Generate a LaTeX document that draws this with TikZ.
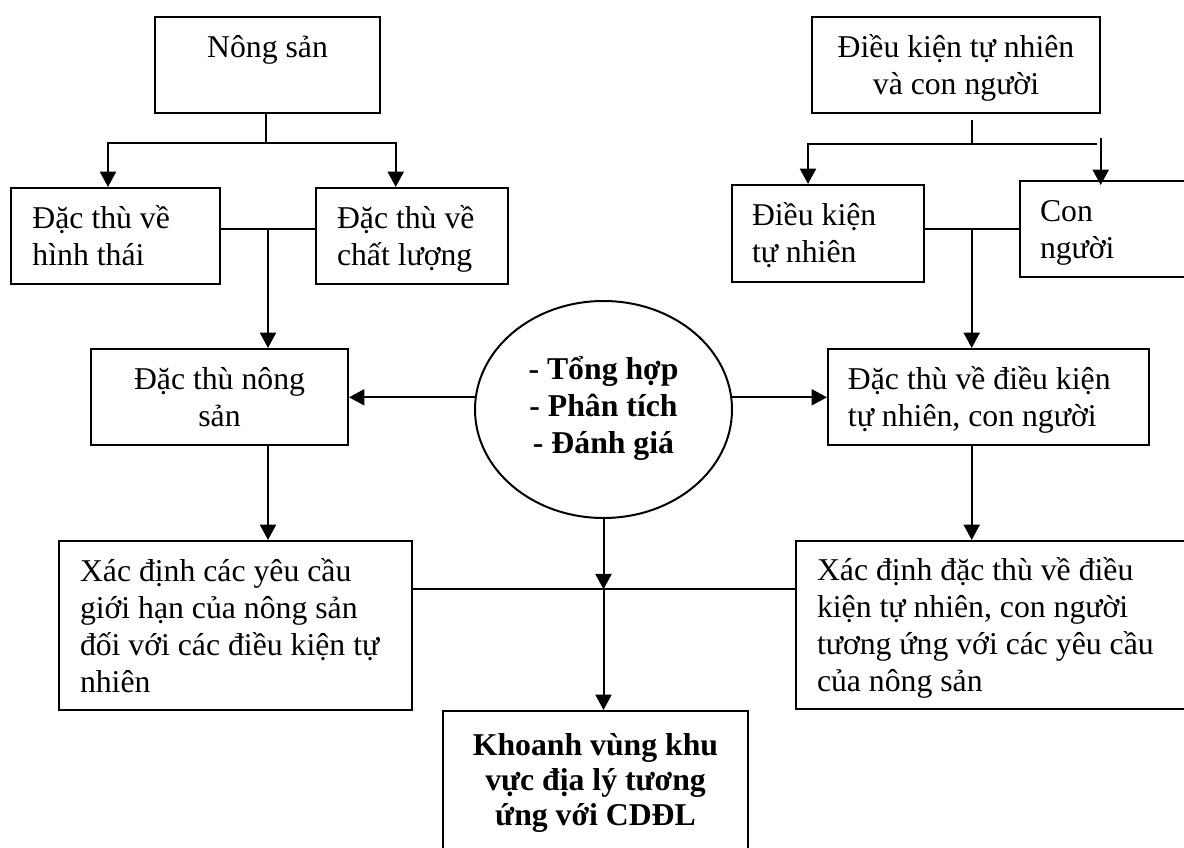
\documentclass[tikz,border=0pt]{standalone}
\usepackage{fontspec}
\setmainfont{Liberation Serif}
\usetikzlibrary{arrows.meta,shapes.geometric,calc}
\newcommand\fs{\fontsize{23.8pt}{27.75pt}\selectfont}
\newcommand\fsb{\fontsize{23.8pt}{25pt}\selectfont\bfseries}
\newcommand\ms{\rule[-0.2\baselineskip]{0pt}{\baselineskip}}
\begin{document}
\begin{tikzpicture}[x=0.75pt,y=-0.75pt,
  box/.style={draw, line width=1.5pt, inner sep=0pt, font=\fs, minimum height=72pt},
  lbox/.style={box, align=flush left},
  cbox/.style={box, align=center},
  conn/.style={line width=1.5pt},
  arr/.style={conn, -{Triangle[length=11.5pt,width=12pt]}}]
\useasboundingbox (0,0) rectangle (1184,848);
\clip (0,0) rectangle (1184,848);

% left column
\node[cbox, minimum width=168.75pt] (nong) at (267.5,65) {\ms Nông sản\\\ms};
\node[lbox, minimum width=156.4pt, text width=124.9pt] (hinhthai) at (115.75,236) {\ms Đặc thù về\\\ms hình thái};
\node[lbox, minimum width=144pt, text width=112.5pt] (chatluong) at (412,236) {\ms Đặc thù về\\\ms chất lượng};
\node[cbox, minimum width=192.75pt] (dtns) at (219.5,397) {\ms Đặc thù nông\\\ms sản};
\node[lbox, minimum width=264.75pt, minimum height=126.75pt, text width=233.25pt] (xdl) at (235.5,625.5)
  {\ms Xác định các yêu cầu\\\ms giới hạn của nông sản\\\ms đối với các điều kiện tự\\\ms nhiên};

% centre
\node[ellipse, draw, line width=1.5pt, inner sep=0pt, minimum width=192.75pt, minimum height=162.75pt,
  font=\fs\bfseries, align=center] (ell) at (603.5,409.5)
  {\ms- Tổng hợp\\\ms- Phân tích\\\ms- Đánh giá\rule[\dimexpr-0.2\baselineskip-6pt\relax]{0pt}{0pt}};
\node[draw, line width=1.5pt, anchor=north, inner xsep=0pt, inner ysep=13.7pt, minimum width=228.75pt,
  align=center, font=\fsb] (khoanh) at (595.5,710)
  {\ms Khoanh vùng khu\\\ms vực địa lý tương\\\ms ứng với CDĐL\\\ms\\\ms\\\ms};

% right column
\node[cbox, minimum width=216pt] (dkcn) at (956,65) {\ms Điều kiện tự nhiên\\\ms và con người};
\node[lbox, minimum width=144pt, minimum height=72.5pt, text width=114pt] (dktn) at (828,233.3) {\ms Điều kiện\\\ms tự nhiên};
\node[lbox, minimum width=135pt, text width=105pt] (connguoi) at (1110,229) {\ms Con\\\ms người};
\node[lbox, minimum width=240.4pt, text width=210.4pt] (dtdk) at (988.25,397) {\ms Đặc thù về điều kiện\\\ms tự nhiên, con người};
\node[lbox, minimum width=303pt, minimum height=126pt, text width=271.5pt] (xdr) at (998,625)
  {\ms Xác định đặc thù về điều\\\ms kiện tự nhiên, con người\\\ms tương ứng với các yêu cầu\\\ms của nông sản};

% left connectors
\coordinate (nb) at (266,143);
\coordinate (nL) at (108,143);
\coordinate (nR) at (395.7,143);
\draw[conn] (nong.south -| nb) -- (nb);
\draw[arr] (nb) -| (nL |- hinhthai.north);
\draw[arr] (nb) -| (nR |- chatluong.north);
\coordinate (j1) at (268,229.3);
\draw[conn] (hinhthai.east |- j1) -- (chatluong.west |- j1);
\draw[arr] (j1) -- (j1 |- dtns.north);
\draw[arr] (dtns.south -| j1) -- (xdl.north -| j1);

% centre connectors
\coordinate (eL) at (476.2,397.3);
\coordinate (eR) at (730.8,397.3);
\draw[arr] (eL) -- (eL -| dtns.east);
\draw[arr] (eR) -- (eR -| dtdk.west);
\coordinate (hj) at (603.5,589.3);
\draw[arr] (ell.south) -- (hj);
\draw[conn] (xdl.east |- hj) -- (xdr.west |- hj);
\draw[arr] (hj) -- (hj |- khoanh.north);

% right connectors
\coordinate (db) at (971.7,144.3);
\coordinate (dL) at (808,144.3);
\coordinate (dR) at (1096.7,144.3);
\coordinate (dRa) at (1100.7,138.3);
\draw[conn] ($(dkcn.south -| db)+(0,6)$) -- (db);
\draw[conn] (db) -- (dR);
\draw[arr] (db) -| (dL |- dktn.north);
\draw[arr] (dRa) -- ($(dRa |- connguoi.north)+(0,5)$);
\coordinate (j2) at (971.7,229.3);
\draw[conn] (dktn.east |- j2) -- (connguoi.west |- j2);
\draw[arr] (j2) -- (j2 |- dtdk.north);
\draw[arr] (dtdk.south -| j2) -- (xdr.north -| j2);
\end{tikzpicture}
\end{document}
